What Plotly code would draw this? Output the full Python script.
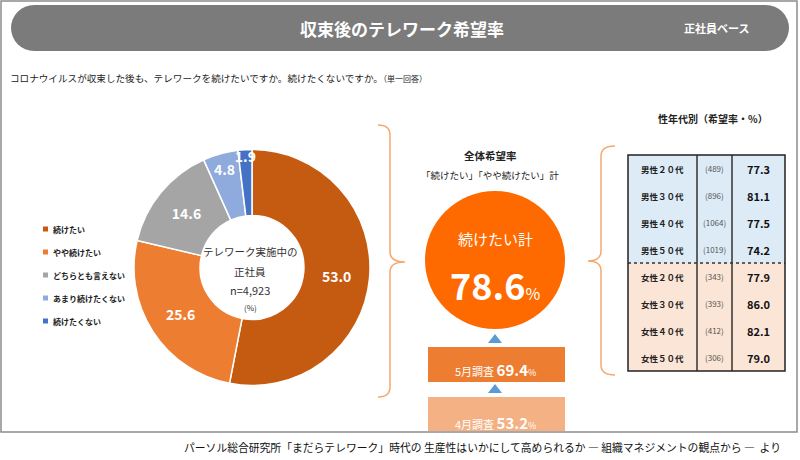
import plotly.graph_objects as go

# ---------------- data ----------------
answer_labels = ["続けたい", "やや続けたい", "どちらとも言えない", "あまり続けたくない", "続けたくない"]
answer_values = [53.0, 25.6, 14.6, 4.8, 1.9]
answer_colors = ["#c55a11", "#ed7d31", "#a5a5a5", "#8faadc", "#4472c4"]

total_rate = 78.6
past_labels = ["5月調査", "4月調査"]
past_values = [69.4, 53.2]
past_colors = ["#ed7d31", "#f4b183"]

group_labels = ["男性２０代", "男性３０代", "男性４０代", "男性５０代",
                "女性２０代", "女性３０代", "女性４０代", "女性５０代"]
group_n = [489, 896, 1064, 1019, 343, 393, 412, 306]
group_rates = [77.3, 81.1, 77.5, 74.2, 77.9, 86.0, 82.1, 79.0]

FONT = "Noto Sans CJK JP"
W, H = 800, 460

fig = go.Figure()

# invisible canvas trace for pixel-based shapes
fig.add_trace(go.Scatter(x=[0, W], y=[0, H], mode="markers",
                         marker=dict(opacity=0), showlegend=False, hoverinfo="skip"))

# donut
cx, cy, R = 252, 267.5, 118
fig.add_trace(go.Pie(
    values=answer_values, labels=answer_labels,
    text=[f"<b>{v:.1f}</b>" for v in answer_values],
    textinfo="text", textposition="inside", insidetextorientation="horizontal",
    textfont=dict(family=FONT, size=14, color="white"),
    marker=dict(colors=answer_colors, line=dict(color="white", width=1.5)),
    sort=False, direction="clockwise", rotation=0, hole=0.44,
    domain=dict(x=[(cx - R) / W, (cx + R) / W], y=[(H - cy - R) / H, (H - cy + R) / H]),
    showlegend=False, hoverinfo="label+value",
))

shapes = []
ann = []

def text(x, y, s, size, color="#222", anchor="center", bold=False, yanchor="middle"):
    if bold:
        s = f"<b>{s}</b>"
    ann.append(dict(x=x, y=y, xref="x", yref="y", text=s, showarrow=False,
                    xanchor=anchor, yanchor=yanchor,
                    font=dict(family=FONT, size=size, color=color)))

# frame
shapes.append(dict(type="rect", x0=1, x1=797, y0=1, y1=432, line=dict(color="#8c8c8c", width=1.5)))

# title banner
bc = "#7b7b7b"
shapes.append(dict(type="rect", x0=34, x1=766, y0=5, y1=51, fillcolor=bc, line=dict(width=0)))
shapes.append(dict(type="circle", x0=11, x1=57, y0=5, y1=51, fillcolor=bc, line=dict(width=0)))
shapes.append(dict(type="circle", x0=743, x1=789, y0=5, y1=51, fillcolor=bc, line=dict(width=0)))
text(402, 28, "収束後のテレワーク希望率", 17, "white", bold=True)
text(716, 28, "正社員ベース", 11, "white", bold=True)

# question
text(8, 78, "コロナウイルスが収束した後も、テレワークを続けたいですか。続けたくないですか。<span style='font-size:8px'>（単一回答）</span>",
     9.6, "#222", anchor="left")

# legend (manual)
for i, (lab, col) in enumerate(zip(answer_labels, answer_colors)):
    yy = 229 + i * 23
    shapes.append(dict(type="rect", x0=43, x1=48, y0=yy - 2.5, y1=yy + 2.5, fillcolor=col, line=dict(width=0)))
    text(51, yy, lab, 8, "#222", anchor="left", bold=True)

# donut center text
text(cx - 2, 251, "テレワーク実施中の", 10.5, "#333")
text(cx - 2, 271, "正社員", 10.5, "#333")
text(cx - 2, 290, "n=4,923", 11, "#333")
text(cx - 2, 307, "(%)", 8, "#333")

# braces
brace_col = "#f5a870"
shapes.append(dict(type="path", line=dict(color=brace_col, width=1.5),
                   path="M 378,125 Q 390,125 390,135 L 390,252 Q 390,262 405,262 "
                        "Q 390,262 390,272 L 390,387 Q 390,397 378,397"))
shapes.append(dict(type="path", line=dict(color=brace_col, width=1.5),
                   path="M 615,146 Q 601,146 601,156 L 601,251 Q 601,261 588,261 "
                        "Q 601,261 601,271 L 601,365 Q 601,375 615,375"))

# middle block
mx = 495
text(490, 155, "全体希望率", 10.5, "#222", bold=True)
text(490, 175, "「続けたい」「やや続けたい」計", 9.5, "#222")
shapes.append(dict(type="circle", x0=mx - 70, x1=mx + 70, y0=191, y1=329, fillcolor="#ff6a00", line=dict(width=0)))
text(mx, 238, "続けたい計", 15, "white")
text(mx, 284, f"<b>{total_rate:.1f}</b><span style='font-size:16px'>%</span>", 36, "white")

tri = "#5b9bd5"
box_tops = [347, 397]
for i, (lab, val, col) in enumerate(zip(past_labels, past_values, past_colors)):
    top = box_tops[i]
    ty = top - 8
    shapes.append(dict(type="path", fillcolor=tri, line=dict(width=0),
                       path=f"M {mx-7},{ty+4} L {mx+7},{ty+4} L {mx},{ty-5} Z"))
    bottom = min(top + 35, 431)
    shapes.append(dict(type="rect", x0=428, x1=565, y0=top, y1=bottom, fillcolor=col, line=dict(width=0)))
    text(mx, top + 22 if i == 0 else top + 25,
         f"{lab} <b><span style='font-size:15px'>{val:.1f}</span></b><span style='font-size:9px'>%</span>",
         11, "white")

# table
text(713, 118, "性年代別（希望率・%）", 10, "#222", bold=True)
tx0, tc1, tc2, tx1 = 628, 697, 732, 785
ty0, rh = 155, 27
n = len(group_labels)
for i, (lab, nn, rate) in enumerate(zip(group_labels, group_n, group_rates)):
    y0 = ty0 + i * rh
    fill = "#ddebf7" if i < 4 else "#fbe5d6"
    shapes.append(dict(type="rect", x0=tx0, x1=tx1, y0=y0, y1=y0 + rh, fillcolor=fill, line=dict(width=0), layer="below"))
    yc = y0 + rh / 2
    text((tx0 + tc1) / 2, yc, lab, 8.5, "#222", bold=True)
    text((tc1 + tc2) / 2, yc, f"({nn})", 8, "#555")
    text((tc2 + tx1) / 2, yc, f"{rate:.1f}", 11, "#111", bold=True)
ty1 = ty0 + n * rh
shapes.append(dict(type="line", x0=tx0, x1=tx1, y0=ty0 + 4 * rh, y1=ty0 + 4 * rh, line=dict(color="#333", width=1.5, dash="dot")))
for xx in (tc1, tc2):
    shapes.append(dict(type="line", x0=xx, x1=xx, y0=ty0, y1=ty1, line=dict(color="#333", width=1.5)))
shapes.append(dict(type="rect", x0=tx0, x1=tx1, y0=ty0, y1=ty1, line=dict(color="#222", width=1.5)))

# source
text(783, 447, "パーソル総合研究所「まだらテレワーク」時代の 生産性はいかにして高められるか ― 組織マネジメントの観点から ―  より",
     10.8, "#111", anchor="right")

fig.update_layout(
    width=W, height=H, margin=dict(l=0, r=0, t=0, b=0),
    paper_bgcolor="white", plot_bgcolor="white",
    xaxis=dict(range=[0, W], visible=False, fixedrange=True),
    yaxis=dict(range=[H, 0], visible=False, fixedrange=True),
    shapes=shapes, annotations=ann, showlegend=False,
    uniformtext=dict(minsize=14, mode="show"),
    font=dict(family=FONT),
)

fig.write_html("out.html", config={"displayModeBar": False},
               post_script="document.body.style.margin='0px';document.body.style.overflow='hidden';")
